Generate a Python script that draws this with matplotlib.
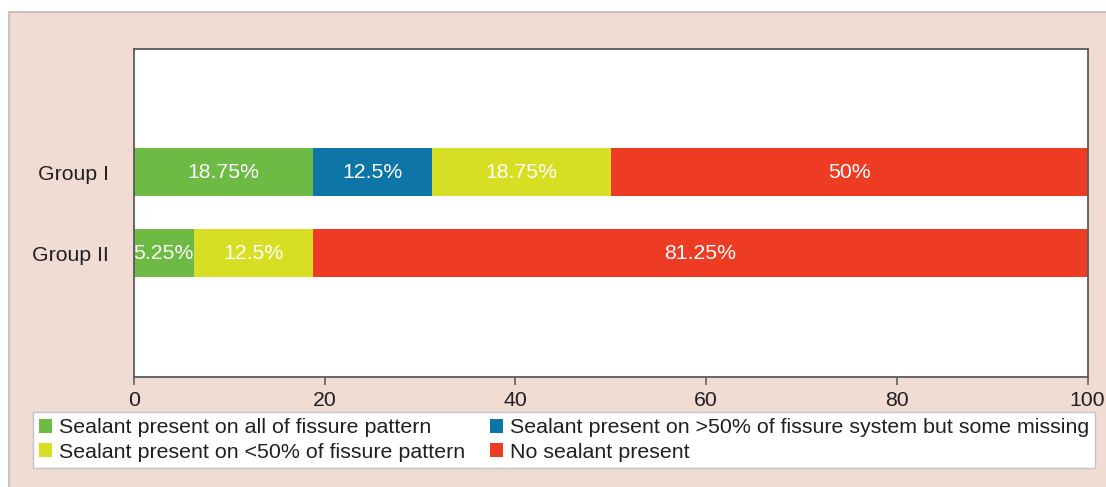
import matplotlib.pyplot as plt
from matplotlib.patches import Rectangle, Patch

plt.rcParams['font.family'] = ['Liberation Sans', 'DejaVu Sans']

groups = ['Group I', 'Group II']
categories = ['Sealant present on all of fissure pattern',
              'Sealant present on >50% of fissure system but some missing',
              'Sealant present on <50% of fissure pattern',
              'No sealant present']
colors = ['#6dbb45', '#0e76a6', '#d6df23', '#ee3b24']

# percent per category, Group I then Group II
group1 = [18.75, 12.5, 18.75, 50]
group2 = [6.25, 0, 12.5, 81.25]
# labels as printed on the bars (Group II green says 5.25%)
labels1 = ['18.75%', '12.5%', '18.75%', '50%']
labels2 = ['5.25%', '', '12.5%', '81.25%']

W, H = 1106, 487
fig = plt.figure(figsize=(W / 100, H / 100), dpi=100)
fig.patch.set_facecolor('white')

# pink panel behind the chart
fig.patches.append(Rectangle((9 / W, -0.01), 1.0, (H - 12) / H + 0.01,
                             transform=fig.transFigure, facecolor='#f1dcd4',
                             edgecolor='#b8bcbe', linewidth=1.2, zorder=-5))

ax = fig.add_axes([134 / W, 1 - 377 / H, (1087.5 - 134) / W, (377 - 49) / H])
ax.set_zorder(2)
ax.set_facecolor('white')

ypos = [1, 0]
for y, vals, labs in zip(ypos, [group1, group2], [labels1, labels2]):
    left = 0
    for v, lab, c in zip(vals, labs, colors):
        if v > 0:
            ax.barh(y, v, left=left, height=0.59, color=c, linewidth=0)
            ax.text(left + v / 2, y, lab, ha='center', va='center',
                    color='white', fontsize=15.3)
        left += v

ax.set_xlim(0, 100)
ax.set_ylim(-1.53, 2.52)
ax.set_xticks([0, 20, 40, 60, 80, 100])
ax.set_yticks(ypos)
ax.set_yticklabels(groups)
ax.tick_params(axis='x', direction='out', length=6, width=1.1, color='#555555',
               labelsize=15.3, labelcolor='#231f20', pad=4)
ax.tick_params(axis='y', length=0, labelsize=15.3, labelcolor='#231f20', pad=18)
for s in ax.spines.values():
    s.set_color('#5a5a5a')
    s.set_linewidth(1.3)

handles = [Patch(facecolor=colors[0]), Patch(facecolor=colors[2]),
           Patch(facecolor=colors[1]), Patch(facecolor=colors[3])]
names = [categories[0], categories[2], categories[1], categories[3]]
leg = fig.legend(handles, names, ncol=2, loc='upper left',
                 bbox_to_anchor=(33 / W, 1 - 412 / H),
                 fontsize=15.4, frameon=True, fancybox=False, framealpha=1,
                 handlelength=0.6, handleheight=0.6, handletextpad=0.3,
                 columnspacing=1.2, labelspacing=0.25, borderpad=0.3,
                 borderaxespad=0)
leg.set_zorder(3)
leg.get_frame().set_edgecolor('#c0c4c6')
leg.get_frame().set_linewidth(1.0)
for t in leg.get_texts():
    t.set_color('#231f20')

fig.savefig('out.png', dpi=100, facecolor=fig.get_facecolor())
